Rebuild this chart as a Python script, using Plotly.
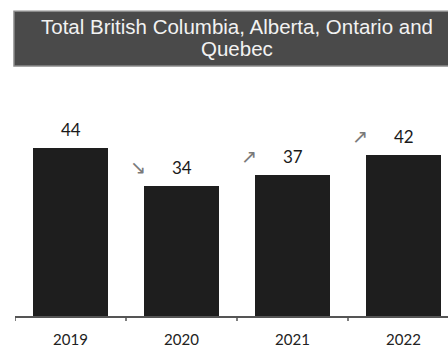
import plotly.graph_objects as go

# Yearly totals for the four provinces combined
years = ["2019", "2020", "2021", "2022"]
totals = [44, 34, 37, 42]
# Year-over-year direction markers (none for the first year)
trend = ["", "↘", "↗", "↗"]

title_lines = ["Total British Columbia, Alberta, Ontario and", "Quebec"]

W, H = 448, 348
ML, MR, MT, MB = 15, 0, 70, 27
px_per_cat = 111.0
px_per_unit = 3.9

plot_w = W - ML - MR
plot_h = H - MT - MB
x_range = [-0.5, -0.5 + plot_w / px_per_cat]
y_range = [0, plot_h / px_per_unit]

label_font = "Lato, 'Open Sans', sans-serif"

fig = go.Figure()
fig.add_trace(
    go.Bar(
        x=list(range(len(years))),
        y=totals,
        width=0.667,
        marker=dict(color="#1e1e1e", line=dict(width=0)),
        hoverinfo="skip",
    )
)

annotations = []
for i, (v, t) in enumerate(zip(totals, trend)):
    annotations.append(
        dict(
            x=i, y=v, xref="x", yref="y",
            text=str(v), showarrow=False,
            yanchor="bottom", yshift=6,
            font=dict(family=label_font, size=17, color="#1a1a1a"),
        )
    )
    if t:
        annotations.append(
            dict(
                x=i, y=v, xref="x", yref="y",
                text=t, showarrow=False,
                yanchor="bottom", yshift=6, xshift=-44,
                font=dict(family="DejaVu Sans", size=19, color="#7a7a7a"),
            )
        )

# Header banner (paper coords relative to the plot area)
def px_to_paper_x(px):
    return (px - ML) / plot_w

def px_to_paper_y(py):
    return (H - MB - py) / plot_h

for line, cy in zip(title_lines, [26, 48]):
    annotations.append(
        dict(
            x=px_to_paper_x(237), y=px_to_paper_y(cy), xref="paper", yref="paper",
            text=line, showarrow=False,
            xanchor="center", yanchor="middle",
            font=dict(family="Liberation Sans, Arial, sans-serif", size=20.5, color="#f2f2f2"),
        )
    )

fig.update_layout(
    width=W, height=H,
    margin=dict(l=ML, r=MR, t=MT, b=MB, pad=0),
    paper_bgcolor="white", plot_bgcolor="white",
    showlegend=False,
    bargap=0,
    annotations=annotations,
    shapes=[
        dict(
            type="rect", xref="paper", yref="paper",
            x0=px_to_paper_x(14), x1=px_to_paper_x(470),
            y0=px_to_paper_y(66), y1=px_to_paper_y(10),
            fillcolor="#4a4a4a", line=dict(color="#8a8a8a", width=1.5),
            layer="below",
        )
    ],
    xaxis=dict(
        tickmode="array",
        tickvals=list(range(len(years))),
        ticktext=years,
        range=x_range,
        ticks="", showline=True, linecolor="#555555", linewidth=1.5,
        showgrid=False, zeroline=False,
        ticklabelstandoff=9,
        tickfont=dict(family=label_font, size=15, color="#222222"),
        fixedrange=True,
    ),
    yaxis=dict(
        range=y_range, visible=False, showgrid=False, zeroline=False, fixedrange=True,
    ),
)

# Boundary tick marks between the year slots
for b in [k - 0.5 for k in range(len(years) + 1)]:
    fig.add_shape(
        type="line", xref="x", yref="paper",
        x0=b, x1=b, y0=0, y1=-5 / plot_h,
        line=dict(color="#555555", width=1.5),
    )

fig.write_html("out.html")
